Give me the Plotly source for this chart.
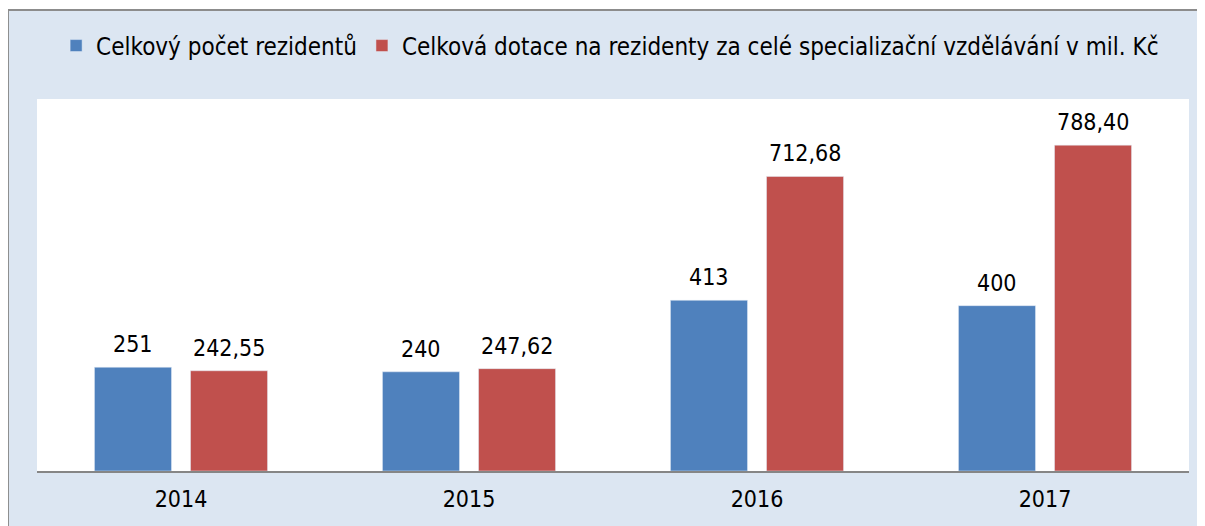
import plotly.graph_objects as go

# Data
years = ["2014", "2015", "2016", "2017"]
residents = [251, 240, 413, 400]
subsidy = [242.55, 247.62, 712.68, 788.40]

name_residents = "Celkový počet rezidentů"
name_subsidy = "Celková dotace na rezidenty za celé specializační vzdělávání v mil. Kč"

blue = "#4F81BD"
red = "#C0504D"
font_family = "DejaVu Sans Condensed, Liberation Sans, sans-serif"

fig = go.Figure()
fig.add_trace(go.Bar(x=years, y=residents, name=name_residents, marker_color=blue))
fig.add_trace(go.Bar(x=years, y=subsidy, name=name_subsidy, marker_color=red))

# value labels above the bars (Czech decimal comma); x given as category index
annotations = []
for i, v in enumerate(residents):
    annotations.append(dict(x=i, y=v, text=str(v), xshift=-48, yshift=8,
                            yanchor="bottom", showarrow=False))
for i, v in enumerate(subsidy):
    annotations.append(dict(x=i, y=v, text=f"{v:.2f}".replace(".", ","), xshift=48, yshift=8,
                            yanchor="bottom", showarrow=False))

# page has an 8px body margin, so the figure is a bit smaller than the window
fig.update_layout(
    width=1197, height=518,
    margin=dict(l=29, r=16, t=91, b=55),
    paper_bgcolor="white",
    plot_bgcolor="white",
    font=dict(family=font_family, size=23, color="#000000"),
    barmode="group",
    bargap=0.333,
    bargroupgap=0.198,
    legend=dict(orientation="h", x=0.4975, xanchor="center", y=1.1425, yanchor="middle",
                bgcolor="rgba(0,0,0,0)", font=dict(size=24)),
    xaxis=dict(type="category", range=[-0.5, 3.5], showline=True, linecolor="#868686",
               linewidth=2, showgrid=False, ticklabelstandoff=6),
    yaxis=dict(range=[0, 900], visible=False),
    annotations=annotations,
    shapes=[
        # light blue chart area with grey border (runs off the window on right/bottom)
        dict(type="rect", xref="paper", yref="paper", layer="below",
             x0=-0.0252, x1=1.1, y0=-0.3, y1=1.2393,
             fillcolor="#DCE6F2", line=dict(color="#8C8C8C", width=2)),
        # white plot area on top of it
        dict(type="rect", xref="paper", yref="paper", layer="below",
             x0=0, x1=1, y0=0, y1=1, fillcolor="white", line=dict(width=0)),
    ],
)

fig.write_html("out.html")
